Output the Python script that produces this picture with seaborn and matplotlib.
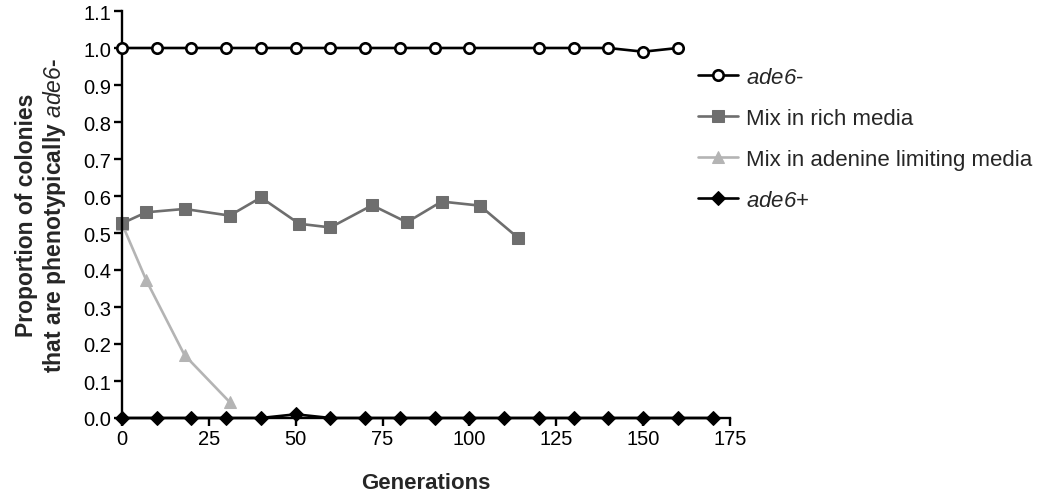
import matplotlib
matplotlib.use("Agg")
import matplotlib.pyplot as plt
import seaborn as sns
import pandas as pd
import numpy as np
from matplotlib.ticker import FormatStrFormatter

sns.set_style("ticks")
plt.rcParams['font.family'] = ['Liberation Sans', 'DejaVu Sans']
plt.rcParams['mathtext.fontset'] = 'custom'
plt.rcParams['mathtext.rm'] = 'Liberation Sans:italic'
plt.rcParams['mathtext.it'] = 'Liberation Sans:italic'

# ade6- control
gen_minus = [0, 10, 20, 30, 40, 50, 60, 70, 80, 90, 100, 120, 130, 140, 150, 160]
val_minus = [1.0, 1.0, 1.0, 1.0, 1.0, 1.0, 1.0, 1.0, 1.0, 1.0, 1.0, 1.0, 1.0, 1.0, 0.99, 1.0]

# Mix in rich media
gen_rich = [0, 7, 18, 31, 40, 51, 60, 72, 82, 92, 103, 114]
val_rich = [0.526, 0.556, 0.565, 0.547, 0.596, 0.525, 0.515, 0.575, 0.529, 0.585, 0.574, 0.487]

# Mix in adenine limiting media
gen_lim = [0, 7, 18, 31]
val_lim = [0.525, 0.372, 0.170, 0.043]

# ade6+ control
gen_plus = [0, 10, 20, 30, 40, 50, 60, 70, 80, 90, 100, 110, 120, 130, 140, 150, 160, 170]
val_plus = [0, 0, 0, 0, 0, 0.01, 0, 0, 0, 0, 0, 0, 0, 0, 0, 0, 0, 0]

labels = ["$\\mathit{ade6}$-", "Mix in rich media", "Mix in adenine limiting media", "$\\mathit{ade6}$+"]

fig = plt.figure(figsize=(10.48, 5.02), dpi=100)
ax = fig.add_axes([122/1048, 1 - 419/502, (730-122)/1048, (419-12)/502])

lw = 1.9
sns.lineplot(x=gen_lim, y=val_lim, ax=ax, color="#b4b4b4", marker="^", markersize=8.5,
             markeredgecolor="#b4b4b4", linewidth=lw, label=labels[2], clip_on=False)
sns.lineplot(x=gen_rich, y=val_rich, ax=ax, color="#6e6e6e", marker="s", markersize=9,
             markeredgecolor="#6e6e6e", linewidth=lw, label=labels[1], clip_on=False)
sns.lineplot(x=gen_plus, y=val_plus, ax=ax, color="black", marker="D", markersize=7.5,
             markeredgecolor="black", linewidth=lw, label=labels[3], clip_on=False, zorder=5)
sns.lineplot(x=gen_minus, y=val_minus, ax=ax, color="black", marker="o", markersize=7.5,
             markerfacecolor="white", markeredgecolor="black", markeredgewidth=1.9,
             linewidth=lw, label=labels[0], clip_on=False, zorder=5)

ax.set_xlim(0, 175)
ax.set_ylim(0, 1.1)
ax.set_xticks(np.arange(0, 176, 25))
ax.set_yticks(np.round(np.arange(0, 1.11, 0.1), 1))
ax.yaxis.set_major_formatter(FormatStrFormatter('%.1f'))
for s in ["top", "right"]:
    ax.spines[s].set_visible(False)
for s in ["left", "bottom"]:
    ax.spines[s].set_linewidth(1.7)
    ax.spines[s].set_color("black")
ax.tick_params(axis="both", direction="out", length=5.5, width=1.7, labelsize=14.5, colors="black", pad=2.5)

ax.set_xlabel("Generations", fontsize=16, fontweight="bold", labelpad=17)
ax.set_ylabel("Proportion of colonies\nthat are phenotypically $\\mathit{ade6}$-",
              fontsize=16.5, fontweight="bold", labelpad=11, linespacing=1.12)

handles, labs = ax.get_legend_handles_labels()
order = [labs.index(l) for l in labels]
ax.legend([handles[i] for i in order], [labs[i] for i in order],
          loc="upper left", bbox_to_anchor=(698/1048, 1 - 68/502), bbox_transform=fig.transFigure,
          frameon=False, fontsize=16, handlelength=1.8, handletextpad=0.35, labelspacing=0.9,
          borderaxespad=0, borderpad=0)

fig.savefig("out.png", dpi=100)
